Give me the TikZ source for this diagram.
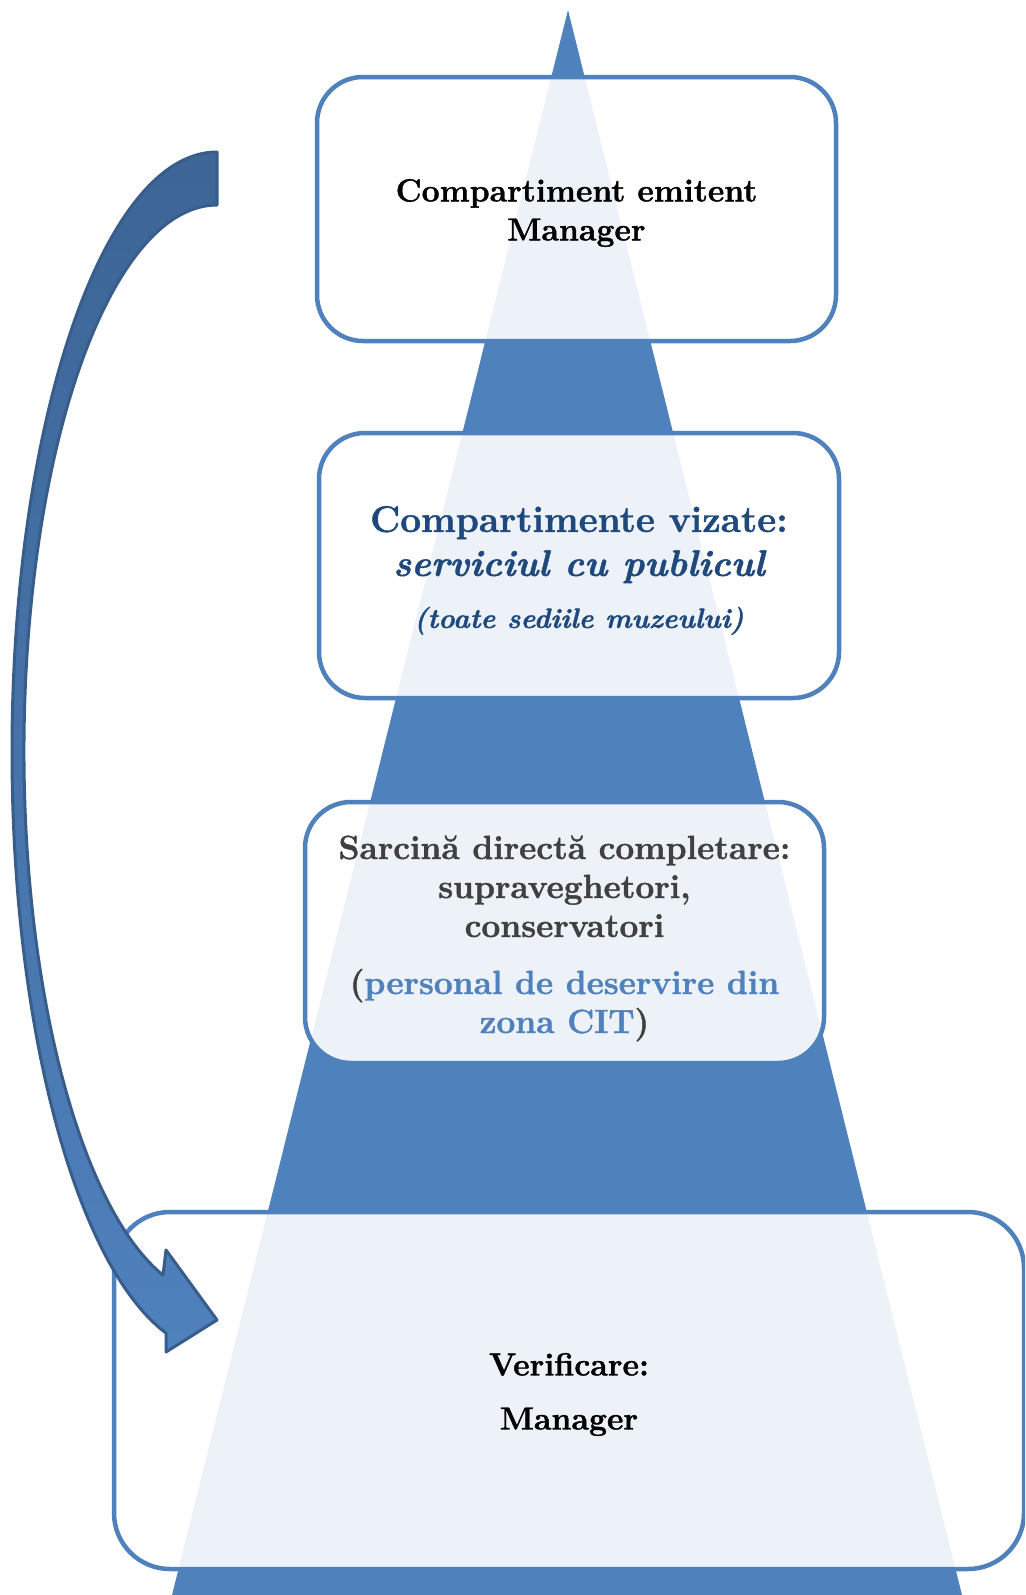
\documentclass[tikz,border=0pt]{standalone}
\usepackage{fontspec}
\setmainfont{Latin Modern Roman}[BoldFeatures={FakeBold=1.2},BoldItalicFeatures={FakeBold=1.2}]
\definecolor{pyrblue}{HTML}{4F81BD}
\definecolor{headblue}{HTML}{1F497D}
\definecolor{textgray}{HTML}{404040}
\definecolor{arrowtop}{HTML}{3D6596}
\definecolor{arrowline}{HTML}{385D8A}
\tikzset{
	levelbox/.style={draw=pyrblue,line width=4.5pt,fill=white,fill opacity=.9,
		rounded corners=46pt,inner sep=0pt},
	boxtext/.style={align=center,inner sep=0pt,font=\bfseries},
}
\begin{document}
\begin{tikzpicture}[x=1pt,y=-1pt]
	\clip (0,0) rectangle (1025,1595);

	% pyramid behind the boxes
	\fill[pyrblue] (568,10) -- (962,1595) -- (172,1595) -- cycle;

	\begin{scope}
		\node[levelbox,minimum width=519pt,minimum height=264pt] (emit) at (576.5,209) {};
		\node[levelbox,minimum width=520pt,minimum height=265pt] (vizate) at (579,565.5) {};
		\node[levelbox,minimum width=519pt,minimum height=261pt] (sarcina) at (564.5,932.5) {};
		\node[levelbox,rounded corners=56pt,minimum width=910pt,minimum height=357pt] (verif) at (569,1390.5) {};
	\end{scope}

	\begin{scope}
		\node[boxtext,font=\fontsize{32}{39}\selectfont\bfseries] (emittext)
			at ([yshift=-4pt]emit.center) {Compartiment emitent\\Manager};
		\node[boxtext,text=headblue,font=\fontsize{37}{44}\selectfont\bfseries] (vizatetext)
			at ([yshift=-5pt]vizate.center)
			{Compartimente vizate:\\
			\itshape serviciul cu publicul\\[8pt]
			\fontsize{28}{33}\selectfont\itshape (toate sediile muzeului)};
		\node[boxtext,text=textgray,font=\fontsize{33.5}{39}\selectfont\bfseries] (sarcinatext)
			at ([yshift=-6pt]sarcina.center)
			{Sarcină directă completare:\\
			supraveghetori,\\conservatori\\[18pt]
			(\textcolor{pyrblue}{personal de deservire din}\\\textcolor{pyrblue}{zona CIT})};
		\node[boxtext,font=\fontsize{32}{54}\selectfont\bfseries] (veriftext)
			at ([yshift=-4pt]verif.center) {Verificare:\\Manager};
	\end{scope}

	% curved arrow from the issuer down to the check
	\draw[arrowline,line width=3pt,line join=round,top color=arrowtop,bottom color=pyrblue]
		(217,152) arc[start angle=270,end angle=104.4,x radius=205,y radius=600]
		-- (166,1352) -- (217,1320) -- (166,1250) -- (163,1275.2)
		arc[start angle=106.25,end angle=270,x radius=193,y radius=546] -- cycle;
\end{tikzpicture}
\end{document}
